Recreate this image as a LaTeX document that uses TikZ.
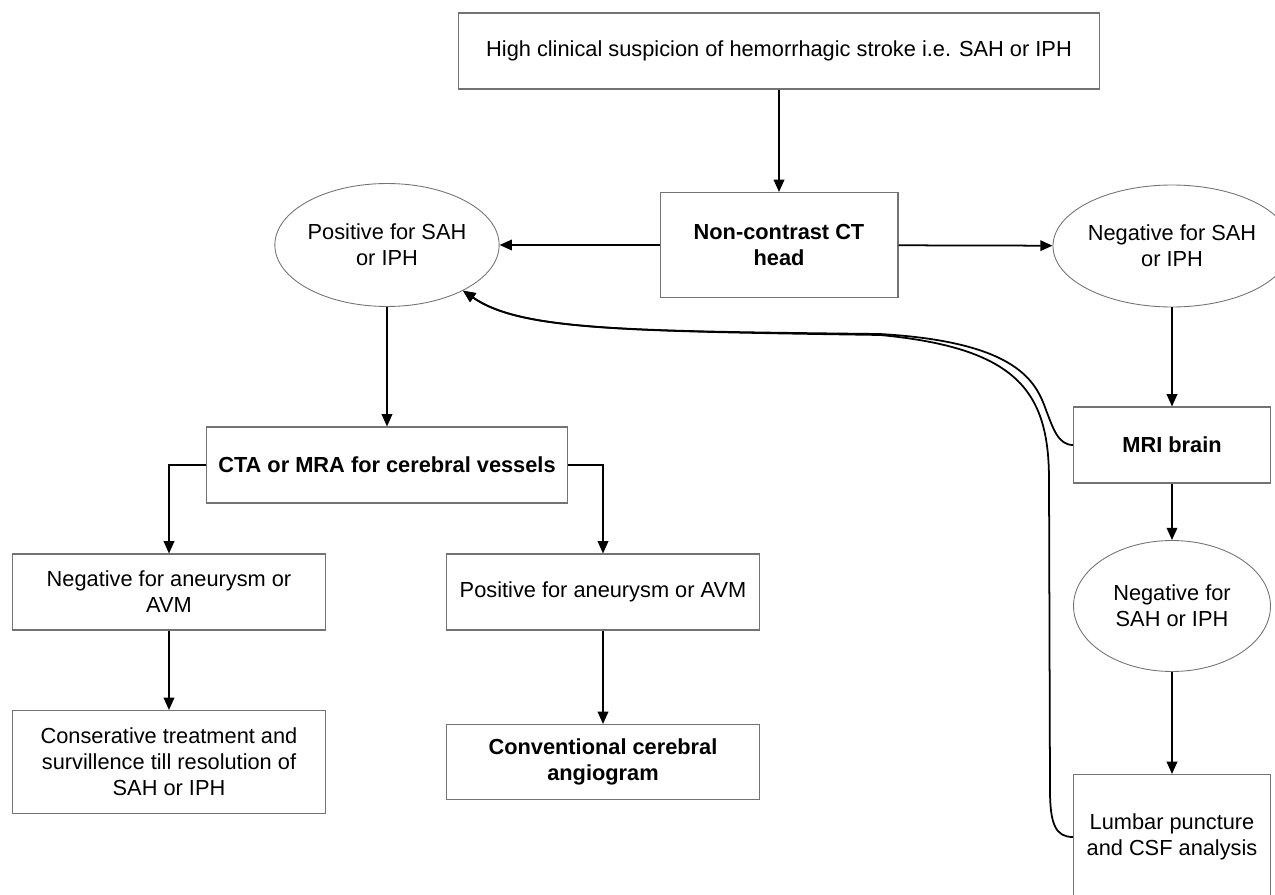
\documentclass[tikz,border=0pt]{standalone}
\usepackage{fontspec}
\setmainfont{Liberation Sans}
\usetikzlibrary{shapes.geometric}
\usetikzlibrary{arrows.meta}

\tikzset{
  box/.style={draw=black!55, line width=0.6pt, rectangle, align=center, inner sep=0pt,
    font=\fontsize{12.4}{14.8}\selectfont},
  boldbox/.style={box, font=\fontsize{12.4}{14.8}\selectfont\bfseries},
  oval/.style={draw=black!55, line width=0.5pt, ellipse, align=center, inner sep=0pt,
    font=\fontsize{12.4}{14.8}\selectfont},
  arr/.style={line width=1pt, -{Triangle[length=7pt,width=6pt]}}
}

\begin{document}
\begin{tikzpicture}[x=0.02cm, y=-0.02cm]
\useasboundingbox (0,0) rectangle (1275,895);
\clip (0,0) rectangle (1275,895);

%top and CT
\node[box, minimum width=12.84cm, minimum height=1.52cm] (susp) at (779,51)
  {High clinical suspicion of hemorrhagic stroke i.e. SAH or IPH};
\node[boldbox, minimum width=4.76cm, minimum height=2.1cm] (ct) at (779,245) {Non-contrast CT\\head};

\draw[arr] (susp) -- (ct);

%left branch
\node[oval, minimum width=4.48cm, minimum height=2.46cm] (pos) at (387,245) {Positive for SAH\\or IPH};
\draw[arr] (ct) -- (pos);

\node[boldbox, minimum width=7.24cm, minimum height=1.52cm] (cta) at (387,465) {CTA or MRA for cerebral vessels};
\draw[arr] (pos) -- (cta);

\node[box, minimum width=6.28cm, minimum height=1.52cm] (negan) at (169,592) {Negative for aneurysm or\\AVM};
\node[box, minimum width=6.26cm, minimum height=1.52cm] (posan) at (603,592) {Positive for aneurysm or AVM};
\draw[arr] (cta.west) -| (negan.north);
\draw[arr] (cta.east) -| (posan.north);

\node[box, minimum width=6.28cm, minimum height=2.06cm] (cons) at (169,762)
  {Conserative treatment and\\survillence till resolution of\\SAH or IPH};
\node[boldbox, minimum width=6.26cm, minimum height=1.5cm] (conv) at (603,762) {Conventional cerebral\\angiogram};
\draw[arr] (negan) -- (cons);
\draw[arr] (posan) -- (conv);

%right branch
\node[oval, minimum width=4.48cm, minimum height=2.44cm] (neg) at (1172,246) {Negative for SAH\\or IPH};
\draw[arr] (ct) -- (neg);

\node[boldbox, minimum width=3.94cm, minimum height=1.52cm] (mri) at (1172,445) {MRI brain};
\draw[arr] (neg) -- (mri);

\node[oval, minimum width=3.94cm, minimum height=2.62cm] (negtwo) at (1172,606) {Negative for\\SAH or IPH};
\draw[arr] (mri) -- (negtwo);

\node[box, minimum width=3.94cm, minimum height=2.5cm] (lumbar) at (1172,837) {Lumbar puncture\\and CSF analysis};
\draw[arr] (negtwo) -- (lumbar);

%back to positive
\draw[arr] (mri.west) .. controls (1058,445) and (1053,428) .. (1046,410)
  .. controls (1036,382) and (1018,342) .. (880,334)
  .. controls (620,331) and (520,330) .. (pos.-31);
\draw[arr] (lumbar.west) .. controls (1056,837) and (1050,825) .. (1050,790)
  -- (1049,480) .. controls (1049,392) and (1018,348) .. (880,335)
  .. controls (620,331) and (520,330) .. (pos.-31);

\end{tikzpicture}
\end{document}
